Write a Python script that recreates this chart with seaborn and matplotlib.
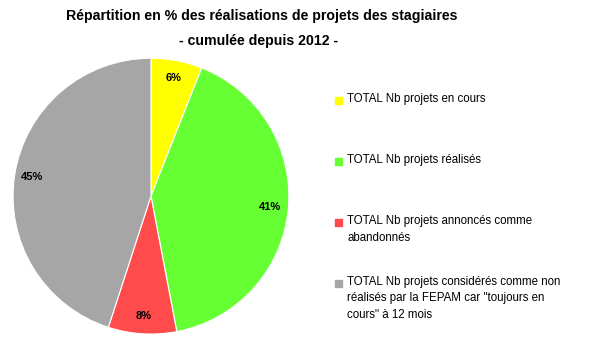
import matplotlib
matplotlib.use("Agg")
import matplotlib.pyplot as plt
import seaborn as sns
from matplotlib.patches import Rectangle

# données
categories = [
    "TOTAL Nb projets en cours",
    "TOTAL Nb projets réalisés",
    "TOTAL Nb projets annoncés comme\nabandonnés",
    "TOTAL Nb projets considérés comme non\nréalisés par la FEPAM car \"toujours en\ncours\" à 12 mois",
]
percents = [6, 41, 8, 45]
colors = ["#FFFF00", "#66FF33", "#FF4B4B", "#A6A6A6"]

sns.set_theme(style="white")
plt.rcParams["font.family"] = ["Liberation Sans", "DejaVu Sans"]
plt.rcParams["text.color"] = "black"

fig = plt.figure(figsize=(5.92, 3.55), dpi=100)
ax = fig.add_axes([0.022, 0.059, 0.466, 0.777])

wedges, texts, autotexts = ax.pie(
    percents,
    colors=colors,
    startangle=90,
    counterclock=False,
    autopct="%d%%",
    pctdistance=0.87,
    wedgeprops=dict(edgecolor="white", linewidth=0.8),
    textprops=dict(fontsize=8, fontweight="bold", color="black"),
)
ax.set_xlim(-1, 1)
ax.set_ylim(-1, 1)
ax.set_aspect("equal")

# titre
fig.text(0.442, 0.955, "Répartition en % des réalisations de projets des stagiaires",
         ha="center", va="center", fontsize=10.2, fontweight="bold")
fig.text(0.437, 0.885, "- cumulée depuis 2012 -",
         ha="center", va="center", fontsize=10.2, fontweight="bold")

# légende
legend_y = [100, 161, 222, 283]
for label, col, y in zip(categories, colors, legend_y):
    yf = 1 - y / 355
    fig.patches.append(Rectangle((335 / 592, yf - 3.5 / 355), 7 / 592, 7 / 355,
                                 transform=fig.transFigure, color=col))
    fig.text(347 / 592, yf + 7 / 355, label, ha="left", va="top",
             fontsize=8.3, linespacing=1.5)

fig.savefig("out.png", dpi=100)
